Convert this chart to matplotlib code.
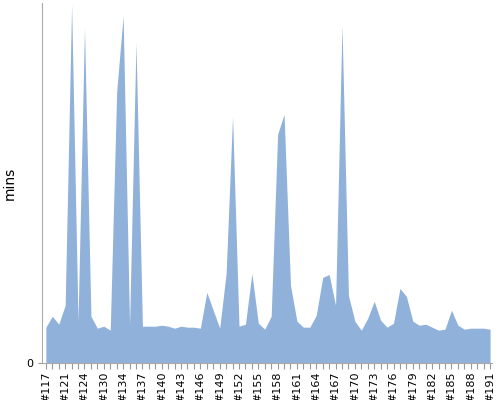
import matplotlib
matplotlib.use("Agg")
import matplotlib.pyplot as plt
import numpy as np

builds = [117, 118, 120, 121, 122, 123, 124, 126, 128, 130, 131, 133] + list(range(134, 192))
labels = ['#%d' % b for b in builds]

# (screen units, axis only shows 0)
mins = [36, 47, 39, 58, 360, 42, 337, 47, 35, 37, 33, 273,
        349, 38, 322, 37, 37, 37, 38, 37, 35, 37, 36, 36,
        35, 71, 53, 35, 90, 248, 37, 39, 90, 40, 34, 47,
        230, 250, 78, 42, 36, 36, 48, 86, 89, 58, 340, 68,
        42, 33, 45, 62, 43, 36, 40, 75, 67, 42, 38, 39,
        36, 33, 34, 53, 38, 34, 35, 35, 35, 34]

x = np.arange(len(mins))

fig = plt.figure(figsize=(5, 4), dpi=100)
ax = fig.add_axes([0.084, 0.0925, 0.9, 0.9])
ax.fill_between(x, mins, 0, color='#8fb1da', linewidth=0)
ax.set_xlim(-0.6, len(mins) - 0.7)
ax.set_ylim(0, 362)

ax.set_yticks([0])
ax.set_yticklabels(['0'], fontsize=8)
ax.set_ylabel('mins', fontsize=10)
ax.yaxis.set_label_coords(-0.055, 0.5)

ax.set_xticks(x)
ax.set_xticklabels([l if i % 3 == 0 else '' for i, l in enumerate(labels)],
                   rotation=90, fontsize=8)
ax.tick_params(axis='x', length=4, color='#999999', pad=2)
ax.tick_params(axis='y', length=3, color='#999999')

for s in ['top', 'right']:
    ax.spines[s].set_visible(False)
ax.spines['left'].set_color('#aaaaaa')
ax.spines['bottom'].set_color('#aaaaaa')

fig.savefig('out.png')
